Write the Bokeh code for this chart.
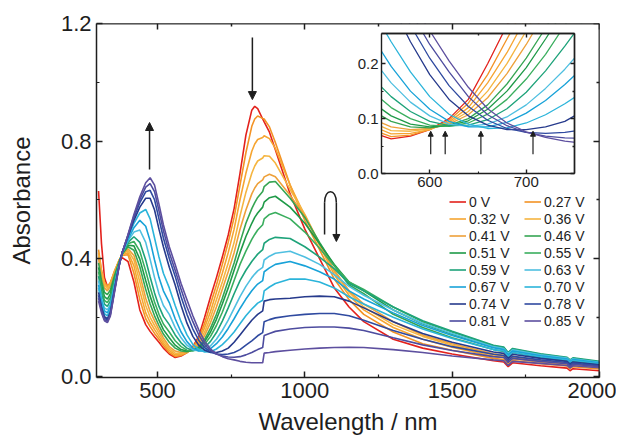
from bokeh.plotting import figure
from bokeh.models import (Range1d, LinearAxis, FixedTicker, PrintfTickFormatter,
                          Legend, LegendItem, Arrow, NormalHead)
from bokeh.embed import file_html
from bokeh.resources import INLINE

# ---------------- data ----------------
wavelength = [300, 310, 320, 330, 340, 355, 370, 380, 400, 420,
              440, 460, 475, 490, 505, 520, 540, 560, 580, 600,
              620, 640, 660, 680, 700, 720, 740, 760, 780, 800,
              820, 830, 840, 857, 862, 880, 900, 950, 1000, 1050,
              1100, 1150, 1200, 1300, 1400, 1500, 1640, 1675, 1690, 1705,
              1800, 1890, 1900, 1910, 2000]

potentials = ["0 V", "0.27 V", "0.32 V", "0.36 V", "0.41 V", "0.46 V", "0.51 V", "0.55 V",
              "0.59 V", "0.63 V", "0.67 V", "0.70 V", "0.74 V", "0.78 V", "0.81 V", "0.85 V"]

a_000 = [0.63, 0.45, 0.335, 0.305, 0.315, 0.355, 0.39, 0.403, 0.39, 0.32,
         0.225, 0.175, 0.152, 0.133, 0.115, 0.095, 0.075, 0.063, 0.068, 0.08,
         0.10, 0.135, 0.20, 0.27, 0.335, 0.405, 0.48, 0.57, 0.69, 0.82,
         0.905, 0.918, 0.91, 0.875, 0.865, 0.83, 0.77, 0.62, 0.50, 0.40,
         0.30, 0.235, 0.185, 0.125, 0.095, 0.075, 0.052, 0.048, 0.032, 0.045,
         0.035, 0.027, 0.018, 0.025, 0.018]
a_027 = [0.43, 0.36, 0.32, 0.305, 0.318, 0.36, 0.395, 0.41, 0.413, 0.35,
         0.26, 0.195, 0.168, 0.145, 0.125, 0.104, 0.08, 0.067, 0.07, 0.08,
         0.097, 0.128, 0.18, 0.245, 0.31, 0.38, 0.455, 0.54, 0.65, 0.76,
         0.85, 0.875, 0.885, 0.877, 0.875, 0.848, 0.795, 0.65, 0.53, 0.43,
         0.33, 0.26, 0.21, 0.15, 0.11, 0.088, 0.06, 0.056, 0.039, 0.053,
         0.042, 0.034, 0.025, 0.032, 0.024]
a_032 = [0.42, 0.355, 0.315, 0.302, 0.315, 0.358, 0.395, 0.412, 0.42, 0.375,
         0.29, 0.215, 0.183, 0.158, 0.135, 0.112, 0.087, 0.072, 0.073, 0.08,
         0.094, 0.12, 0.165, 0.22, 0.285, 0.35, 0.42, 0.5, 0.6, 0.69,
         0.765, 0.79, 0.805, 0.812, 0.818, 0.808, 0.775, 0.65, 0.545, 0.445,
         0.345, 0.275, 0.225, 0.165, 0.125, 0.098, 0.067, 0.063, 0.045, 0.059,
         0.047, 0.038, 0.029, 0.036, 0.028]
a_036 = [0.41, 0.35, 0.31, 0.298, 0.312, 0.356, 0.394, 0.413, 0.427, 0.395,
         0.32, 0.24, 0.2, 0.172, 0.146, 0.12, 0.093, 0.078, 0.077, 0.081,
         0.092, 0.113, 0.15, 0.2, 0.26, 0.32, 0.385, 0.455, 0.545, 0.625,
         0.69, 0.715, 0.732, 0.742, 0.75, 0.748, 0.725, 0.635, 0.55, 0.45,
         0.355, 0.285, 0.235, 0.175, 0.135, 0.105, 0.072, 0.067, 0.049, 0.063,
         0.05, 0.041, 0.032, 0.039, 0.03]
a_041 = [0.40, 0.34, 0.30, 0.29, 0.305, 0.352, 0.392, 0.414, 0.433, 0.41,
         0.345, 0.265, 0.22, 0.188, 0.158, 0.13, 0.10, 0.085, 0.08, 0.082,
         0.09, 0.107, 0.138, 0.182, 0.235, 0.295, 0.355, 0.42, 0.5, 0.565,
         0.62, 0.64, 0.655, 0.668, 0.678, 0.687, 0.678, 0.615, 0.545, 0.45,
         0.36, 0.29, 0.245, 0.185, 0.14, 0.11, 0.076, 0.071, 0.053, 0.067,
         0.053, 0.044, 0.035, 0.042, 0.032]
a_046 = [0.385, 0.325, 0.285, 0.277, 0.293, 0.345, 0.39, 0.415, 0.44, 0.428,
         0.372, 0.295, 0.245, 0.205, 0.172, 0.143, 0.115, 0.095, 0.085, 0.083,
         0.088, 0.1, 0.125, 0.163, 0.21, 0.265, 0.325, 0.385, 0.455, 0.52,
         0.57, 0.59, 0.608, 0.628, 0.645, 0.66, 0.662, 0.605, 0.54, 0.455,
         0.375, 0.31, 0.28, 0.21, 0.165, 0.13, 0.09, 0.084, 0.066, 0.08,
         0.063, 0.053, 0.044, 0.051, 0.04]
a_051 = [0.37, 0.31, 0.27, 0.262, 0.28, 0.337, 0.387, 0.415, 0.445, 0.443,
         0.398, 0.325, 0.272, 0.228, 0.19, 0.158, 0.13, 0.105, 0.09, 0.085,
         0.087, 0.096, 0.117, 0.15, 0.193, 0.245, 0.3, 0.36, 0.42, 0.475,
         0.52, 0.54, 0.555, 0.575, 0.592, 0.607, 0.612, 0.575, 0.52, 0.45,
         0.38, 0.32, 0.29, 0.225, 0.178, 0.142, 0.098, 0.092, 0.074, 0.087,
         0.07, 0.059, 0.05, 0.057, 0.045]
a_055 = [0.355, 0.295, 0.257, 0.25, 0.268, 0.33, 0.385, 0.416, 0.45, 0.458,
         0.425, 0.358, 0.302, 0.252, 0.21, 0.177, 0.15, 0.12, 0.1, 0.088,
         0.086, 0.092, 0.108, 0.135, 0.172, 0.217, 0.27, 0.325, 0.38, 0.425,
         0.465, 0.482, 0.497, 0.515, 0.535, 0.55, 0.557, 0.535, 0.49, 0.435,
         0.375, 0.32, 0.295, 0.235, 0.185, 0.15, 0.103, 0.097, 0.078, 0.092,
         0.074, 0.062, 0.053, 0.06, 0.048]
a_059 = [0.34, 0.28, 0.245, 0.237, 0.255, 0.322, 0.383, 0.417, 0.455, 0.474,
         0.455, 0.395, 0.337, 0.283, 0.237, 0.203, 0.175, 0.14, 0.113, 0.095,
         0.087, 0.088, 0.098, 0.118, 0.148, 0.187, 0.232, 0.28, 0.325, 0.36,
         0.39, 0.403, 0.415, 0.43, 0.452, 0.465, 0.472, 0.468, 0.44, 0.405,
         0.365, 0.315, 0.29, 0.235, 0.188, 0.152, 0.105, 0.099, 0.08, 0.094,
         0.076, 0.064, 0.055, 0.062, 0.05]
a_063 = [0.325, 0.265, 0.232, 0.225, 0.244, 0.315, 0.381, 0.418, 0.46, 0.49,
         0.497, 0.455, 0.397, 0.335, 0.28, 0.24, 0.21, 0.165, 0.13, 0.105,
         0.09, 0.086, 0.09, 0.103, 0.125, 0.155, 0.19, 0.23, 0.27, 0.305,
         0.335, 0.347, 0.358, 0.37, 0.395, 0.408, 0.418, 0.425, 0.405, 0.38,
         0.345, 0.305, 0.275, 0.225, 0.18, 0.145, 0.1, 0.094, 0.076, 0.089,
         0.072, 0.061, 0.052, 0.059, 0.047]
a_067 = [0.31, 0.255, 0.222, 0.215, 0.235, 0.31, 0.38, 0.42, 0.465, 0.505,
         0.53, 0.51, 0.46, 0.395, 0.335, 0.29, 0.25, 0.195, 0.15, 0.117,
         0.095, 0.085, 0.085, 0.093, 0.11, 0.133, 0.162, 0.195, 0.23, 0.262,
         0.29, 0.302, 0.313, 0.325, 0.355, 0.368, 0.38, 0.39, 0.375, 0.355,
         0.33, 0.29, 0.262, 0.215, 0.172, 0.138, 0.096, 0.09, 0.072, 0.085,
         0.069, 0.058, 0.049, 0.056, 0.045]
a_070 = [0.30, 0.245, 0.212, 0.205, 0.226, 0.305, 0.379, 0.42, 0.47, 0.52,
         0.555, 0.567, 0.535, 0.47, 0.405, 0.35, 0.30, 0.24, 0.185, 0.14,
         0.108, 0.09, 0.082, 0.083, 0.092, 0.107, 0.127, 0.15, 0.178, 0.205,
         0.228, 0.238, 0.248, 0.258, 0.29, 0.303, 0.315, 0.33, 0.33, 0.32,
         0.30, 0.27, 0.245, 0.2, 0.16, 0.128, 0.09, 0.085, 0.067, 0.08,
         0.065, 0.055, 0.046, 0.053, 0.042]
a_074 = [0.285, 0.235, 0.202, 0.195, 0.217, 0.30, 0.378, 0.42, 0.475, 0.53,
         0.575, 0.605, 0.605, 0.565, 0.50, 0.44, 0.37, 0.31, 0.24, 0.18,
         0.135, 0.105, 0.088, 0.08, 0.08, 0.085, 0.095, 0.115, 0.14, 0.165,
         0.19, 0.2, 0.21, 0.222, 0.255, 0.26, 0.262, 0.265, 0.27, 0.272,
         0.27, 0.255, 0.232, 0.185, 0.145, 0.115, 0.082, 0.077, 0.06, 0.074,
         0.06, 0.05, 0.041, 0.048, 0.038]
a_078 = [0.275, 0.228, 0.197, 0.19, 0.212, 0.297, 0.377, 0.42, 0.478, 0.54,
         0.59, 0.627, 0.632, 0.60, 0.535, 0.47, 0.40, 0.34, 0.27, 0.21,
         0.16, 0.122, 0.097, 0.082, 0.075, 0.073, 0.075, 0.08, 0.09, 0.105,
         0.12, 0.128, 0.137, 0.148, 0.185, 0.192, 0.198, 0.205, 0.21, 0.213,
         0.213, 0.205, 0.19, 0.155, 0.125, 0.10, 0.074, 0.07, 0.053, 0.067,
         0.055, 0.046, 0.037, 0.044, 0.035]
a_081 = [0.265, 0.222, 0.192, 0.186, 0.208, 0.294, 0.376, 0.42, 0.48, 0.545,
         0.60, 0.643, 0.655, 0.628, 0.562, 0.495, 0.42, 0.36, 0.295, 0.235,
         0.185, 0.14, 0.107, 0.087, 0.075, 0.068, 0.065, 0.064, 0.066, 0.072,
         0.08, 0.085, 0.09, 0.097, 0.138, 0.145, 0.152, 0.16, 0.165, 0.167,
         0.167, 0.163, 0.155, 0.13, 0.106, 0.087, 0.066, 0.063, 0.046, 0.06,
         0.05, 0.042, 0.033, 0.04, 0.032]
a_085 = [0.255, 0.215, 0.188, 0.182, 0.204, 0.29, 0.375, 0.42, 0.482, 0.55,
         0.61, 0.658, 0.675, 0.65, 0.585, 0.515, 0.44, 0.38, 0.315, 0.26,
         0.205, 0.157, 0.118, 0.092, 0.076, 0.066, 0.059, 0.055, 0.05, 0.047,
         0.045, 0.045, 0.045, 0.045, 0.078, 0.08, 0.083, 0.088, 0.092, 0.095,
         0.097, 0.098, 0.097, 0.09, 0.08, 0.068, 0.055, 0.052, 0.036, 0.05,
         0.043, 0.036, 0.028, 0.035, 0.028]

series = [a_000, a_027, a_032, a_036, a_041, a_046, a_051, a_055,
          a_059, a_063, a_067, a_070, a_074, a_078, a_081, a_085]
for s in series:
    assert len(s) == len(wavelength), len(s)

colors = ["#e3211c", "#f39325", "#f6a531", "#f5b540", "#eea13a", "#36a553", "#1f9a48", "#3aae5e",
          "#1ea37a", "#4fbfe0", "#18a2d8", "#2bb4da", "#263a8c", "#2f4aa0", "#4d4c9f", "#5d4f9f"]

x_major, x_minor = [500, 1000, 1500, 2000], [750, 1250, 1750]
y_major, y_minor = [0.0, 0.4, 0.8, 1.2], [0.2, 0.6, 1.0]
inset_x_major, inset_x_minor = [600, 700], [650]
inset_y_major, inset_y_minor = [0.0, 0.1, 0.2], [0.05, 0.15]
inset_window = (550, 750, 0.0, 0.255)

# ---------------- layout constants (pixels) ----------------
W, H = 616, 441
FL, FR, FT, FB = 96, 599, 23, 377           # main frame edges
IL, IR, IT, IB = 381, 574, 33, 173          # inset box edges
X0, X1, Y0, Y1 = 293.0, 2000.0, -0.005, 1.2

FONT = "Liberation Sans"
INK = "#1e1e1e"

p = figure(width=W, height=H, x_range=Range1d(X0, X1), y_range=Range1d(Y0, Y1),
           output_backend="svg", toolbar_location=None,
           x_axis_type=None, y_axis_type=None,
           min_border_left=FL, min_border_right=W - FR,
           min_border_top=FT, min_border_bottom=H - FB)
p.outline_line_color = None
p.background_fill_color = "white"
p.border_fill_color = "white"


def style_axis(ax, label_size="22px", tick_in=6, minor_in=3, lw=1.5):
    ax.axis_line_color = INK
    ax.axis_line_width = lw
    ax.major_tick_line_color = INK
    ax.major_tick_line_width = lw
    ax.minor_tick_line_color = INK
    ax.minor_tick_line_width = lw * 0.8
    ax.major_tick_in = tick_in
    ax.major_tick_out = 0
    ax.minor_tick_in = minor_in
    ax.minor_tick_out = 0
    ax.major_label_text_font = FONT
    ax.major_label_text_font_size = label_size
    ax.major_label_text_color = INK
    ax.axis_label_text_font = FONT
    ax.axis_label_text_font_style = "normal"
    ax.axis_label_text_font_size = "24px"
    ax.axis_label_text_color = INK


def mirror_axes(side, loc, majors, minors, major_len, minor_len, lw, **ranges):
    """Label-free mirrored axes: tick marks only (drawn as 'minor' ticks)."""
    for ticks, length in ((majors, major_len), (minors, minor_len)):
        ax = LinearAxis(fixed_location=loc, ticker=FixedTicker(ticks=[], minor_ticks=ticks), **ranges)
        style_axis(ax, tick_in=0, minor_in=length, lw=lw)
        ax.minor_tick_line_width = lw
        p.add_layout(ax, side)


# main axes
xb = LinearAxis(ticker=FixedTicker(ticks=x_major, minor_ticks=x_minor), axis_label="Wavelength / nm")
style_axis(xb)
xb.major_label_standoff = 5
xb.axis_label_standoff = 7
p.add_layout(xb, "below")

yl = LinearAxis(ticker=FixedTicker(ticks=y_major, minor_ticks=y_minor),
                formatter=PrintfTickFormatter(format="%.1f"), axis_label="Absorbance")
style_axis(yl)
yl.major_label_standoff = 5
yl.axis_label_standoff = 23
p.add_layout(yl, "left")

mirror_axes("above", Y1, x_major, x_minor, 6, 3, 1.5)
mirror_axes("right", X1, y_major, y_minor, 6, 3, 1.5)

# main curves
renderers = []
for s, c in zip(series, colors):
    renderers.append(p.line(wavelength, s, line_color=c, line_width=1.6))

# ---------------- inset (own ranges mapped onto the inset box) ----------------
ix_per_px = (inset_window[1] - inset_window[0]) / (IR - IL)
iy_per_px = (inset_window[3] - inset_window[2]) / (IB - IT)
p.extra_x_ranges = {"ix": Range1d(inset_window[0] - (IL - FL) * ix_per_px,
                                  inset_window[1] + (FR - IR) * ix_per_px)}
p.extra_y_ranges = {"iy": Range1d(inset_window[2] - (FB - IB) * iy_per_px,
                                  inset_window[3] + (IT - FT) * iy_per_px)}

idx = [i for i, w in enumerate(wavelength) if 540 <= w <= 760]
for s, c in zip(series, colors):
    p.line([wavelength[i] for i in idx], [s[i] for i in idx], line_color=c, line_width=1.3,
           x_range_name="ix", y_range_name="iy")

# white masks around the inset window (hide line overflow)
pad_x, pad_y = 40, 0.2
p.quad(left=[inset_window[0] - pad_x, inset_window[1], inset_window[0] - pad_x],
       right=[inset_window[0], inset_window[1] + pad_x, inset_window[1] + pad_x],
       bottom=[inset_window[2] - 0.02, inset_window[2] - 0.02, inset_window[3]],
       top=[inset_window[3] + pad_y, inset_window[3] + pad_y, inset_window[3] + pad_y],
       fill_color="white", line_color=None, x_range_name="ix", y_range_name="iy")

# inset axes
ib = LinearAxis(x_range_name="ix", y_range_name="iy", fixed_location=inset_window[2],
                bounds=(inset_window[0], inset_window[1]),
                ticker=FixedTicker(ticks=inset_x_major, minor_ticks=inset_x_minor))
style_axis(ib, label_size="15px", tick_in=4, minor_in=2, lw=1.4)
ib.major_label_standoff = 3
p.add_layout(ib, "below")

il = LinearAxis(x_range_name="ix", y_range_name="iy", fixed_location=inset_window[0],
                bounds=(inset_window[2], inset_window[3]),
                ticker=FixedTicker(ticks=inset_y_major, minor_ticks=inset_y_minor),
                formatter=PrintfTickFormatter(format="%.1f"))
style_axis(il, label_size="15px", tick_in=4, minor_in=2, lw=1.4)
il.major_label_standoff = 3
p.add_layout(il, "left")

mirror_axes("above", inset_window[3], inset_x_major, inset_x_minor, 4, 2, 1.4,
            x_range_name="ix", y_range_name="iy")
mirror_axes("right", inset_window[1], inset_y_major, inset_y_minor, 4, 2, 1.4,
            x_range_name="ix", y_range_name="iy")
for ax in p.above[-2:]:
    ax.bounds = (inset_window[0], inset_window[1])
for ax in p.right[-2:]:
    ax.bounds = (inset_window[2], inset_window[3])

# ---------------- arrows ----------------
main_arrows = [(822, 1.152, 822, 0.941), (473, 0.703, 473, 0.863)]
for xs, ys, xe, ye in main_arrows:
    p.add_layout(Arrow(end=NormalHead(size=8, fill_color=INK, line_color=INK, line_width=1),
                       x_start=xs, y_start=ys, x_end=xe, y_end=ye,
                       line_color=INK, line_width=1.5))

inset_arrow_x = [601, 616, 653, 707]
for xa in inset_arrow_x:
    p.add_layout(Arrow(end=NormalHead(size=5, fill_color=INK, line_color=INK, line_width=1),
                       x_start=xa, y_start=0.035, x_end=xa, y_end=0.077,
                       line_color=INK, line_width=1.2,
                       x_range_name="ix", y_range_name="iy"))

# hook arrow (up then down)
hook_left, hook_right, hook_low, hook_mid, hook_ctrl, hook_tip = 1067, 1107, 0.482, 0.59, 0.64, 0.458
p.add_layout(Arrow(end=None, x_start=hook_left, y_start=hook_low, x_end=hook_left, y_end=hook_mid,
                   line_color=INK, line_width=1.5))
p.bezier(x0=[hook_left], y0=[hook_mid], x1=[hook_right], y1=[hook_mid],
         cx0=[hook_left], cy0=[hook_ctrl], cx1=[hook_right], cy1=[hook_ctrl],
         line_color=INK, line_width=1.5)
p.add_layout(Arrow(end=NormalHead(size=7, fill_color=INK, line_color=INK, line_width=1),
                   x_start=hook_right, y_start=hook_mid, x_end=hook_right, y_end=hook_tip,
                   line_color=INK, line_width=1.5))

# ---------------- legend (two columns) ----------------
for col, xoff in ((0, 353), (1, 428)):
    items = [LegendItem(label=potentials[i], renderers=[renderers[i]]) for i in range(col, 16, 2)]
    lg = Legend(items=items, location=(xoff, 48))
    lg.glyph_width = 17
    lg.glyph_height = 17
    lg.label_height = 17
    lg.spacing = 0
    lg.padding = 0
    lg.margin = 0
    lg.label_standoff = 3
    lg.label_text_font = FONT
    lg.label_text_font_size = "14px"
    lg.label_text_color = INK
    lg.border_line_color = None
    lg.background_fill_alpha = 0
    p.add_layout(lg)

open("out.html", "w").write(file_html(p, INLINE))
